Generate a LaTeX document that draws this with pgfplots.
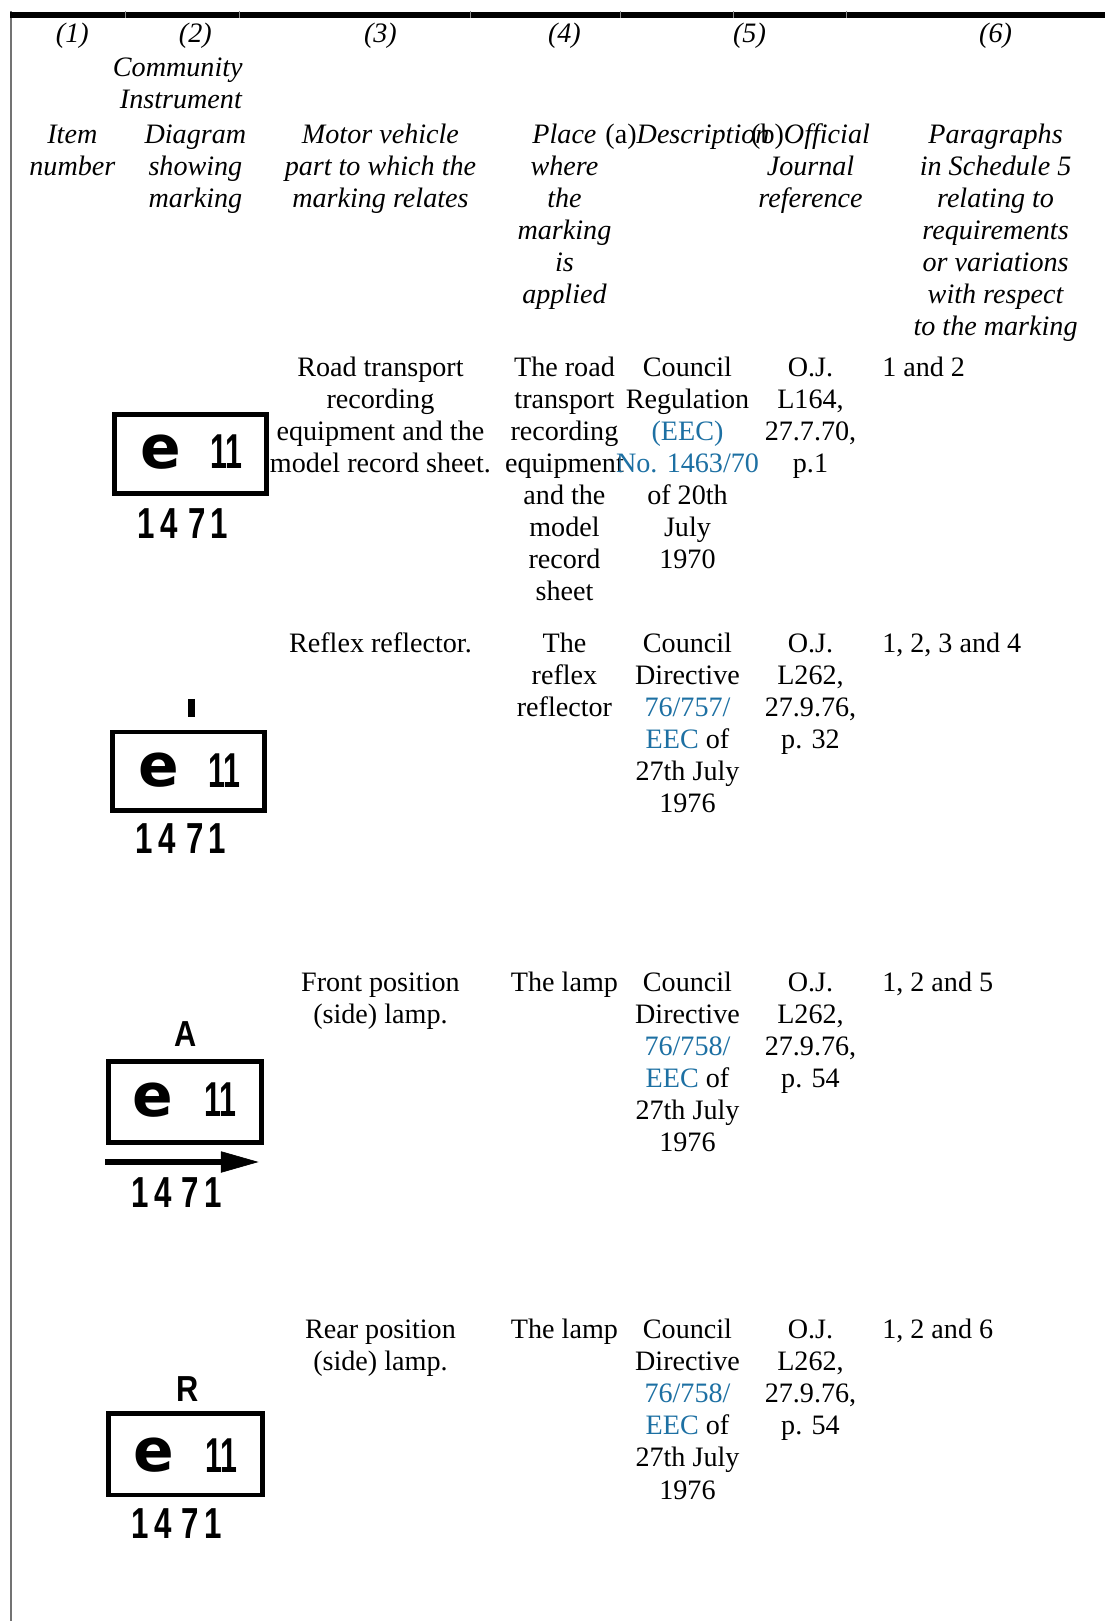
\documentclass[border=0pt]{standalone}
\usepackage{pgfplots}
\pgfplotsset{compat=1.18}
\usepackage{fontspec}
\setmainfont{Liberation Serif}
\newfontfamily\emb{Liberation Sans}
\newfontfamily\embd{DejaVu Sans}
\definecolor{lnk}{RGB}{29,112,163}
\newcommand{\bodyfont}{\fontsize{13.6}{15.5}\selectfont}
\newcommand{\tc}[3]{\node[anchor=base,inner sep=0pt,font=\bodyfont] at (axis cs:#1,#2) {#3};}
\newcommand{\tw}[3]{\node[anchor=base west,inner sep=0pt,font=\bodyfont] at (axis cs:#1,#2) {#3};}
\newcommand{\hc}[3]{\node[anchor=base,inner sep=0pt,font=\bodyfont\itshape] at (axis cs:#1,#2) {#3};}
\newcommand{\embE}[2]{\node[inner sep=0pt,font=\embd\bfseries\fontsize{29}{30}\selectfont] at (axis cs:#1,#2) {e};}
\newcommand{\embN}[2]{\node[inner sep=0pt,font=\emb\bfseries\fontsize{23.7}{24}\selectfont] at (axis cs:#1,#2) {\scalebox{0.62}[1]{11}};}
\newcommand{\embC}[2]{\node[inner sep=0pt,font=\emb\bfseries\fontsize{21}{22}\selectfont] at (axis cs:#1,#2) {\scalebox{0.72}[1]{1\,4\,\,7\,1}};}
\newcommand{\embL}[3]{\node[inner sep=0pt,font=\emb\bfseries\fontsize{17.5}{18}\selectfont] at (axis cs:#1,#2) {\scalebox{0.85}[1]{#3}};}
\begin{document}
\begin{tikzpicture}
\begin{axis}[
  scale only axis, width=534.5pt, height=784pt,
  xmin=0, xmax=1069, ymin=0, ymax=1568, y dir=reverse,
  hide axis, clip=false]
% frame extent
\addplot[draw=none] coordinates {(0,0) (1069,1568)};
% rules
\addplot[black!55, line width=1pt] coordinates {(10.5,11) (10.5,1568)};
\addplot[black, line width=3pt] coordinates {(10,14.3) (1069,14.3)};
\addplot[black!45, line width=0.4pt] coordinates {(121,11) (121,17.5)};
\addplot[black!45, line width=0.4pt] coordinates {(232,11) (232,17.5)};
\addplot[black!45, line width=0.4pt] coordinates {(455,11) (455,17.5)};
\addplot[black!45, line width=0.4pt] coordinates {(600,11) (600,17.5)};
\addplot[black!45, line width=0.4pt] coordinates {(709,11) (709,17.5)};
\addplot[black!45, line width=0.4pt] coordinates {(819,11) (819,17.5)};
% emblem boxes
\addplot[black, line width=2.3pt, line cap=rect] coordinates {(111,401) (258,401) (258,477) (111,477) (111,401)};
\addplot[black, line width=2.3pt, line cap=rect] coordinates {(109,708) (256,708) (256,784) (109,784) (109,708)};
\addplot[black, line width=2.3pt, line cap=rect] coordinates {(105,1027) (253,1027) (253,1105) (105,1105) (105,1027)};
\addplot[black, line width=2.3pt, line cap=rect] coordinates {(105,1367) (254,1367) (254,1446) (105,1446) (105,1367)};
% small bar (reflector) and arrow (front lamp)
\addplot[black, line width=3.3pt] coordinates {(185.5,676) (185.5,694)};
\addplot[black, line width=2.8pt] coordinates {(102,1124) (222,1124)};
\addplot[black, fill=black, line width=0.3pt] coordinates {(214,1114) (249,1124) (214,1134) (214,1114)};
% emblem text
\embE{156}{437}\embN{219}{437}\embC{177}{506}
\embE{154}{745}\embN{217}{745}\embC{175}{811}
\embL{180}{1000}{A}
\embE{148}{1064}\embN{213}{1064}\embC{171}{1154}
\embL{181}{1344}{R}
\embE{149}{1408}\embN{214}{1408}\embC{171}{1474}
% header
\hc{70}{41}{(1)}\hc{189}{41}{(2)}\hc{368}{41}{(3)}\hc{546}{41}{(4)}\hc{725}{41}{(5)}\hc{963}{41}{(6)}
\hc{172}{74}{Community}
\hc{175}{105}{Instrument}
\hc{70}{139}{Item}\hc{189}{139}{Diagram}\hc{368}{139}{Motor vehicle}\hc{546}{139}{Place}
\hc{665}{139}{{\upshape(a)}Description}\hc{784}{139}{{\upshape(b)}Official}\hc{963}{139}{Paragraphs}
\hc{70}{170}{number}\hc{189}{170}{showing}\hc{368}{170}{part to which the}\hc{546}{170}{where}\hc{784}{170}{Journal}\hc{963}{170}{in Schedule 5}
\hc{189}{201}{marking}\hc{368}{201}{marking relates}\hc{546}{201}{the}\hc{784}{201}{reference}\hc{963}{201}{relating to}
\hc{546}{232}{marking}\hc{963}{232}{requirements}
\hc{546}{263}{is}\hc{963}{263}{or variations}
\hc{546}{294}{applied}\hc{963}{294}{with respect}
\hc{963}{325}{to the marking}
% row 1
\tc{368}{364}{Road transport}\tc{368}{395}{recording}\tc{368}{426}{equipment and the}\tc{368}{457}{model record sheet.}
\tc{546}{364}{The road}\tc{546}{395}{transport}\tc{546}{426}{recording}\tc{546}{457}{equipment}
\tc{546}{488}{and the}\tc{546}{519}{model}\tc{546}{550}{record}\tc{546}{581}{sheet}
\tc{665}{364}{Council}\tc{665}{395}{Regulation}\tc{665}{426}{\color{lnk}(EEC)}\tc{665}{457}{\color{lnk}No. 1463/70}
\tc{665}{488}{of 20th}\tc{665}{519}{July}\tc{665}{550}{1970}
\tc{784}{364}{O.J.}\tc{784}{395}{L164,}\tc{784}{426}{27.7.70,}\tc{784}{457}{p.1}
\tw{853}{364}{1 and 2}
% row 2
\tc{368}{631}{Reflex reflector.}
\tc{546}{631}{The}\tc{546}{662}{reflex}\tc{546}{693}{reflector}
\tc{665}{631}{Council}\tc{665}{662}{Directive}\tc{665}{693}{\color{lnk}76/757/}\tc{665}{724}{{\color{lnk}EEC} of}
\tc{665}{755}{27th July}\tc{665}{786}{1976}
\tc{784}{631}{O.J.}\tc{784}{662}{L262,}\tc{784}{693}{27.9.76,}\tc{784}{724}{p. 32}
\tw{853}{631}{1, 2, 3 and 4}
% row 3
\tc{368}{959}{Front position}\tc{368}{990}{(side) lamp.}
\tc{546}{959}{The lamp}
\tc{665}{959}{Council}\tc{665}{990}{Directive}\tc{665}{1021}{\color{lnk}76/758/}\tc{665}{1052}{{\color{lnk}EEC} of}
\tc{665}{1083}{27th July}\tc{665}{1114}{1976}
\tc{784}{959}{O.J.}\tc{784}{990}{L262,}\tc{784}{1021}{27.9.76,}\tc{784}{1052}{p. 54}
\tw{853}{959}{1, 2 and 5}
% row 4
\tc{368}{1295}{Rear position}\tc{368}{1326}{(side) lamp.}
\tc{546}{1295}{The lamp}
\tc{665}{1295}{Council}\tc{665}{1326}{Directive}\tc{665}{1357}{\color{lnk}76/758/}\tc{665}{1388}{{\color{lnk}EEC} of}
\tc{665}{1419}{27th July}\tc{665}{1450}{1976}
\tc{784}{1295}{O.J.}\tc{784}{1326}{L262,}\tc{784}{1357}{27.9.76,}\tc{784}{1388}{p. 54}
\tw{853}{1295}{1, 2 and 6}
\end{axis}
\pgfresetboundingbox
\path[use as bounding box] (current axis.south west) rectangle (current axis.north east);
\end{tikzpicture}
\end{document}
